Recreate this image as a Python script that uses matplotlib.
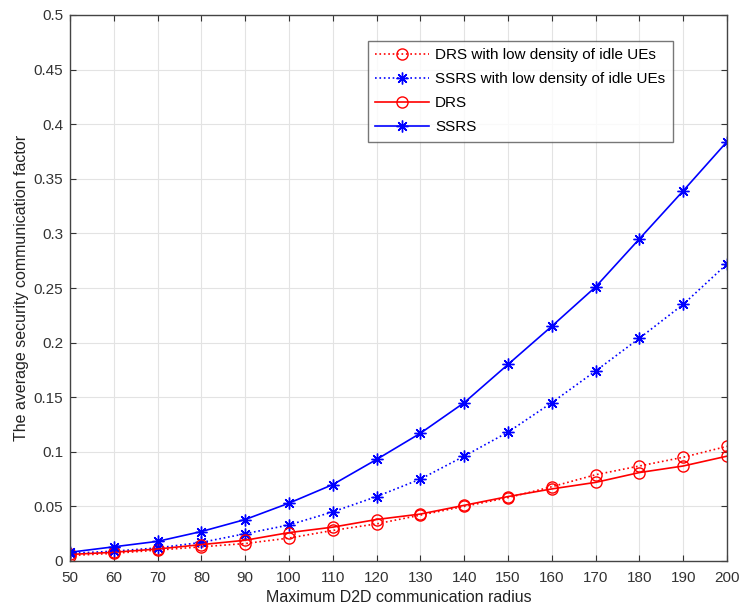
import matplotlib
matplotlib.use("Agg")
import matplotlib.pyplot as plt

plt.rcParams['font.family'] = ['Liberation Sans', 'DejaVu Sans']

radius = [50, 60, 70, 80, 90, 100, 110, 120, 130, 140, 150, 160, 170, 180, 190, 200]
drs_low = [0.005, 0.007, 0.010, 0.013, 0.016, 0.021, 0.028, 0.034, 0.042, 0.050, 0.058, 0.068, 0.079, 0.087, 0.095, 0.105]
ssrs_low = [0.007, 0.009, 0.012, 0.017, 0.025, 0.033, 0.045, 0.059, 0.075, 0.096, 0.118, 0.145, 0.174, 0.204, 0.235, 0.272]
drs = [0.006, 0.008, 0.011, 0.015, 0.019, 0.026, 0.031, 0.038, 0.043, 0.051, 0.059, 0.066, 0.072, 0.081, 0.087, 0.096]
ssrs = [0.008, 0.013, 0.018, 0.027, 0.038, 0.053, 0.070, 0.093, 0.117, 0.145, 0.180, 0.215, 0.251, 0.295, 0.339, 0.384]
labels = ["DRS with low density of idle UEs", "SSRS with low density of idle UEs", "DRS", "SSRS"]

fig = plt.figure(figsize=(7.4, 6.06), dpi=100)
ax = fig.add_axes([70/740, 1-561/606, 657/740, 546/606])

ast = (8, 2, 0)
ax.plot(radius, drs_low, ':', color='#ff0000', lw=1.2, marker='o', mfc='none', ms=8, mew=1.0, label=labels[0])
ax.plot(radius, ssrs_low, ':', color='#0000ff', lw=1.2, marker=ast, ms=8.5, mew=1.0, label=labels[1])
ax.plot(radius, drs, '-', color='#ff0000', lw=1.2, marker='o', mfc='none', ms=8, mew=1.0, label=labels[2])
ax.plot(radius, ssrs, '-', color='#0000ff', lw=1.2, marker=ast, ms=8.5, mew=1.0, label=labels[3])

ax.set_xlim(50, 200)
ax.set_ylim(0, 0.5)
ax.set_xticks(radius)
ax.set_xticklabels([str(r) for r in radius])
yt = [0, 0.05, 0.1, 0.15, 0.2, 0.25, 0.3, 0.35, 0.4, 0.45, 0.5]
ax.set_yticks(yt)
ax.set_yticklabels(['0', '0.05', '0.1', '0.15', '0.2', '0.25', '0.3', '0.35', '0.4', '0.45', '0.5'])
ax.tick_params(direction='in', top=True, right=True, labelsize=11, colors='#333333', length=4)
ax.tick_params(axis='x', pad=7)
ax.tick_params(axis='y', pad=5)
for s in ax.spines.values():
    s.set_color('#444444')
    s.set_linewidth(1.0)
ax.grid(True, color='#e3e3e3', lw=0.8)
ax.set_axisbelow(True)

ax.set_xlabel("Maximum D2D communication radius", fontsize=11.5, color='#222222', labelpad=4)
ax.set_ylabel("The average security communication factor", fontsize=11.5, color='#222222', labelpad=3)

leg = ax.legend(loc='upper left', bbox_to_anchor=((360-70)/657, (561-33)/546),
                fontsize=11, handlelength=3.5, handletextpad=0.4, frameon=True, fancybox=False,
                edgecolor='#555555', borderpad=0.5, labelspacing=0.65)
leg.get_frame().set_linewidth(1.0)

fig.savefig("out.png", dpi=100)
